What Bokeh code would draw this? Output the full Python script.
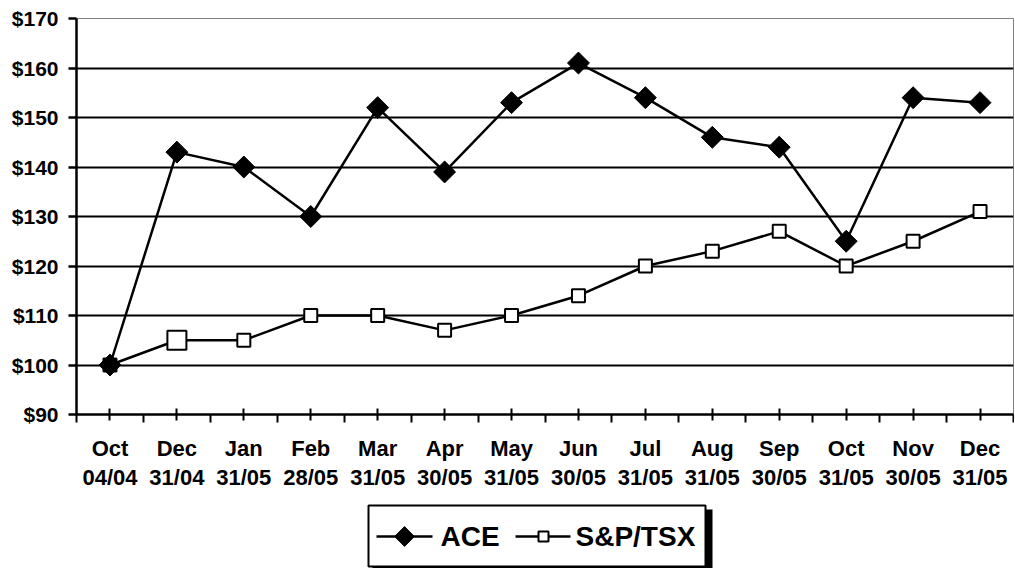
from bokeh.plotting import figure
from bokeh.layouts import column
from bokeh.models import (Range1d, FixedTicker, LinearAxis, NumeralTickFormatter, Grid)
from bokeh.core.properties import value
from bokeh.embed import file_html
from bokeh.resources import INLINE
import numpy as np

# ---- data ----
months = ["Oct", "Dec", "Jan", "Feb", "Mar", "Apr", "May", "Jun", "Jul", "Aug",
          "Sep", "Oct", "Nov", "Dec"]
dates = ["04/04", "31/04", "31/05", "28/05", "31/05", "30/05", "31/05", "30/05",
         "31/05", "31/05", "30/05", "31/05", "30/05", "31/05"]
ace = [100, 143, 140, 130, 152, 139, 153, 161, 154, 146, 144, 125, 154, 153]
tsx = [100, 105, 105, 110, 110, 107, 110, 114, 120, 123, 127, 120, 125, 131]
y_ticks = [90, 100, 110, 120, 130, 140, 150, 160, 170]
series_names = ["ACE", "S&P/TSX"]

FONT = "Liberation Sans"
x = list(range(len(months)))

p = figure(width=1014, height=500,
           x_range=Range1d(-0.5, len(months) - 0.5),
           y_range=Range1d(y_ticks[0], y_ticks[-1]),
           output_backend="svg", toolbar_location=None,
           x_axis_type=None, y_axis_type=None,
           min_border_left=76, min_border_right=1, min_border_top=18,
           min_border_bottom=86)
p.outline_line_color = "#808080"
p.outline_line_width = 1
p.background_fill_color = "white"
p.border_fill_color = "white"

# y axis
yax = LinearAxis(ticker=FixedTicker(ticks=y_ticks),
                 formatter=NumeralTickFormatter(format="$0"))
yax.axis_line_width = 2.5
yax.axis_line_color = "black"
yax.major_tick_line_width = 2.5
yax.major_tick_in = 0
yax.major_tick_out = 8
yax.minor_tick_line_color = None
yax.major_label_standoff = 10
yax.major_label_text_font = FONT
yax.major_label_text_font_style = "bold"
yax.major_label_text_font_size = "21px"
yax.major_label_text_color = "black"
p.add_layout(yax, "left")

grid = Grid(dimension=1, ticker=FixedTicker(ticks=y_ticks))
grid.grid_line_color = "black"
grid.grid_line_width = 2
p.add_layout(grid)

# x axis (months)
minor = [i - 0.5 for i in range(len(months) + 1)]
xax = LinearAxis(ticker=FixedTicker(ticks=x, minor_ticks=minor))
xax.major_label_overrides = {i: m for i, m in enumerate(months)}
xax.axis_line_width = 2.5
xax.axis_line_color = "black"
xax.major_tick_line_width = 2
xax.major_tick_in = 6
xax.major_tick_out = 6
xax.minor_tick_line_width = 2
xax.minor_tick_line_color = "black"
xax.minor_tick_in = 0
xax.minor_tick_out = 8
xax.major_label_standoff = 13
xax.major_label_text_font = FONT
xax.major_label_text_font_style = "bold"
xax.major_label_text_font_size = "22px"
xax.major_label_text_color = "black"
p.add_layout(xax, "below")

# x axis (dates)
xax2 = LinearAxis(ticker=FixedTicker(ticks=x))
xax2.major_label_overrides = {i: d for i, d in enumerate(dates)}
xax2.axis_line_color = None
xax2.major_tick_line_color = None
xax2.minor_tick_line_color = None
xax2.major_tick_in = 0
xax2.major_tick_out = 0
xax2.major_label_standoff = 1
xax2.major_label_text_font = FONT
xax2.major_label_text_font_style = "bold"
xax2.major_label_text_font_size = "22px"
xax2.major_label_text_color = "black"
p.add_layout(xax2, "below")

# series
tsx_sizes = [13, 19, 13, 13, 13, 13, 13, 13, 13, 13, 13, 13, 13, 13]
p.line(x, tsx, line_color="black", line_width=2.5)
p.scatter(x, tsx, marker="square", size=tsx_sizes, fill_color="white",
          line_color="black", line_width=2)
p.line(x, ace, line_color="black", line_width=2.5)
p.scatter(x, ace, marker="square", angle=np.pi / 4, size=15.5,
          fill_color="black", line_color="black", line_width=1)

# ---- legend panel (page-pixel coordinates, y downward; frame aligned with main plot) ----
lg = figure(width=1014, height=68, x_range=Range1d(76, 1013), y_range=Range1d(68, 0),
            output_backend="svg", toolbar_location=None,
            x_axis_type=None, y_axis_type=None,
            min_border_left=76, min_border_right=1, min_border_top=0, min_border_bottom=0)
lg.outline_line_color = None
lg.background_fill_color = "white"
lg.border_fill_color = "white"

# shadow and box
lg.quad(left=[372], right=[712], top=[9], bottom=[72], fill_color="black", line_color=None)
lg.quad(left=[368], right=[705], top=[5], bottom=[66], fill_color="white",
        line_color="black", line_width=2)
# ACE sample
cy = 36
lg.line([376, 432], [cy, cy], line_color="black", line_width=2.5)
lg.scatter([404], [cy], marker="square", angle=np.pi / 4, size=14,
           fill_color="black", line_color="black", line_width=1)
lg.text([440], [cy], text=[series_names[0]], text_font=value(FONT),
        text_font_style="bold", text_font_size="28px", text_baseline="middle",
        text_align="left", text_color="black")
# S&P/TSX sample
lg.line([515, 570], [cy, cy], line_color="black", line_width=2.5)
lg.scatter([543], [cy], marker="square", size=10, fill_color="white",
           line_color="black", line_width=2)
lg.text([575], [cy], text=[series_names[1]], text_font=value(FONT),
        text_font_style="bold", text_font_size="28px", text_baseline="middle",
        text_align="left", text_color="black")

layout = column(p, lg, spacing=0)
open("out.html", "w").write(file_html(layout, INLINE))
